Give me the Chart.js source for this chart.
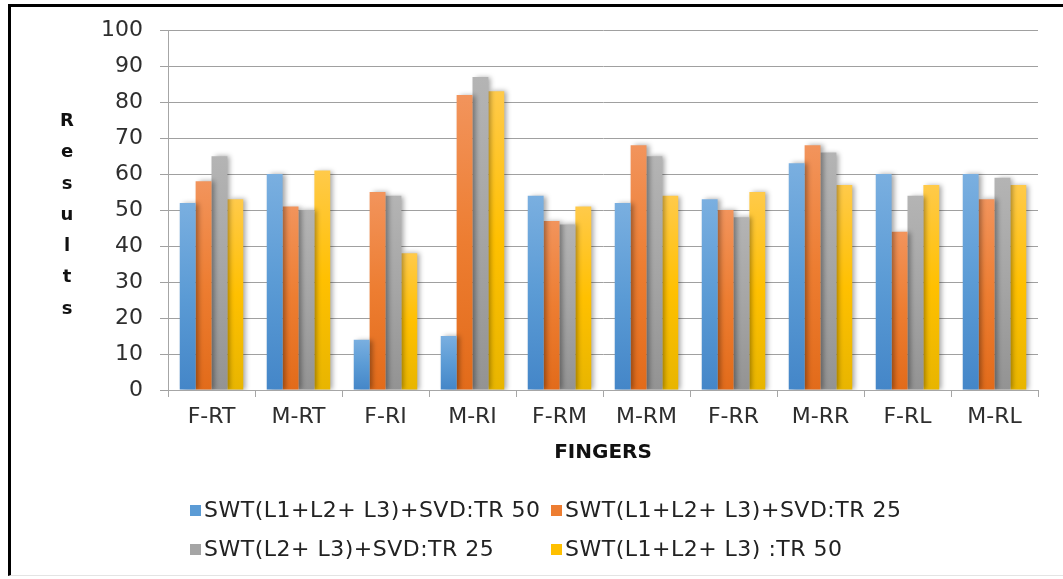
<!DOCTYPE html>
<html lang="en">
<head>
  <meta charset="UTF-8">
  <title>Results by finger</title>
  <script src="https://cdn.jsdelivr.net/npm/chart.js"></script>
  <style>
    body {
      margin: 0;
      background: #fff;
      font-family: "DejaVu Sans", sans-serif;
      color: #333;
    }
    .frame {
      position: absolute;
      left: 8px;
      top: 4px;
      width: 1055px;
      height: 572px;
      border-left: 3px solid #000;
      border-top: 3px solid #000;
      border-bottom: 1px solid #e4e4e4;
      box-sizing: border-box;
    }
    .wrap {
      position: absolute;
      left: 0;
      top: 0;
      width: 1063px;
      height: 579px;
    }
    .ytitle {
      position: absolute;
      left: 57px;
      top: 104px;
      width: 20px;
      text-align: center;
      font-weight: bold;
      font-size: 18px;
      line-height: 31.3px;
      color: #111;
    }
    .xtitle {
      position: absolute;
      left: 0;
      width: 1206px;
      top: 439px;
      text-align: center;
      font-weight: bold;
      font-size: 20px;
      color: #111;
    }
    .legend span.item {
      position: absolute;
      font-size: 22px;
      letter-spacing: 0.5px;
      color: #222;
      white-space: nowrap;
      line-height: 26px;
    }
    .legend i {
      display: inline-block;
      width: 11px;
      height: 11px;
      margin-right: 3px;
      vertical-align: 1px;
    }
  </style>
</head>
<body>
<div class="frame"></div>
<div class="wrap">
  <canvas id="chart" width="1063" height="579"></canvas>
</div>
<div class="ytitle" id="ytitle"></div>
<div class="xtitle">FINGERS</div>
<div class="legend" id="legend"></div>

<script>
  const fingers = ['F-RT', 'M-RT', 'F-RI', 'M-RI', 'F-RM', 'M-RM', 'F-RR', 'M-RR', 'F-RL', 'M-RL'];
  const seriesNames = [
    'SWT(L1+L2+ L3)+SVD:TR 50',
    'SWT(L1+L2+ L3)+SVD:TR 25',
    'SWT(L2+ L3)+SVD:TR 25',
    'SWT(L1+L2+ L3) :TR 50'
  ];
  const swtSvd50 = [52, 60, 14, 15, 54, 52, 53, 63, 60, 60];
  const swtSvd25 = [58, 51, 55, 82, 47, 68, 50, 68, 44, 53];
  const swtL23Svd25 = [65, 50, 54, 87, 46, 65, 48, 66, 54, 59];
  const swtTr50 = [53, 61, 38, 83, 51, 54, 55, 57, 57, 57];
  const yTicks = [0, 10, 20, 30, 40, 50, 60, 70, 80, 90, 100];

  // light top, main, darker bottom
  const palette = [
    ['#7aafe0', '#5b9bd5', '#4486c8'],
    ['#f2945c', '#ed7d31', '#e26b1a'],
    ['#b4b4b4', '#a5a5a5', '#939393'],
    ['#ffca4a', '#ffc000', '#e8b500']
  ];

  const allData = [swtSvd50, swtSvd25, swtL23Svd25, swtTr50];

  function barGradient(idx) {
    return (ctx) => {
      const chart = ctx.chart;
      const y = chart.scales.y;
      const c = palette[idx];
      if (!chart.chartArea || !y || ctx.type !== 'data') return c[1];
      const top = y.getPixelForValue(ctx.raw);
      const bottom = y.getPixelForValue(0);
      if (!isFinite(top) || !isFinite(bottom) || top === bottom) return c[1];
      const g = chart.ctx.createLinearGradient(0, top, 0, bottom);
      g.addColorStop(0, c[0]);
      g.addColorStop(0.5, c[1]);
      g.addColorStop(1, c[2]);
      return g;
    };
  }

  const barShadow = {
    id: 'barShadow',
    beforeDatasetsDraw(chart) {
      const ctx = chart.ctx;
      ctx.save();
      ctx.shadowColor = 'rgba(0,0,0,0.35)';
      ctx.shadowBlur = 5;
      ctx.shadowOffsetX = 3;
      ctx.shadowOffsetY = 0;
    },
    afterDatasetsDraw(chart) {
      chart.ctx.restore();
    }
  };

  new Chart(document.getElementById('chart'), {
    type: 'bar',
    data: {
      labels: fingers,
      datasets: allData.map((d, i) => ({
        label: seriesNames[i],
        data: d,
        backgroundColor: barGradient(i),
        borderWidth: 0,
        categoryPercentage: 0.73,
        barPercentage: 1
      }))
    },
    options: {
      responsive: false,
      animation: false,
      layout: { padding: { top: 29, right: 25, bottom: 0, left: 0 } },
      plugins: {
        legend: { display: false },
        tooltip: { enabled: false }
      },
      scales: {
        x: {
          afterFit: (s) => { s.height = 189; },
          grid: {
            offset: true,
            drawOnChartArea: false,
            tickLength: 7,
            color: '#a6a6a6'
          },
          border: { color: '#a6a6a6', width: 1 },
          ticks: {
            padding: 7,
            color: '#2e2e2e',
            font: { family: 'DejaVu Sans', size: 22 }
          }
        },
        y: {
          min: 0,
          max: 100,
          afterFit: (s) => { s.width = 168; },
          afterBuildTicks: (s) => { s.ticks = yTicks.map(v => ({ value: v })); },
          grid: {
            color: '#a0a0a0',
            lineWidth: 1,
            tickLength: 8
          },
          border: { color: '#a6a6a6', width: 1 },
          ticks: {
            padding: 17,
            color: '#2e2e2e',
            font: { family: 'DejaVu Sans', size: 22 }
          }
        }
      }
    },
    plugins: [barShadow]
  });

  document.getElementById('ytitle').innerHTML = 'Results'.split('').join('<br>');

  const legendPos = [[190, 497], [551, 497], [190, 536], [551, 536]];
  document.getElementById('legend').innerHTML = seriesNames.map((n, i) =>
    `<span class="item" style="left:${legendPos[i][0]}px;top:${legendPos[i][1]}px">` +
    `<i style="background:${palette[i][1]}"></i>${n}</span>`
  ).join('');
</script>
</body>
</html>
